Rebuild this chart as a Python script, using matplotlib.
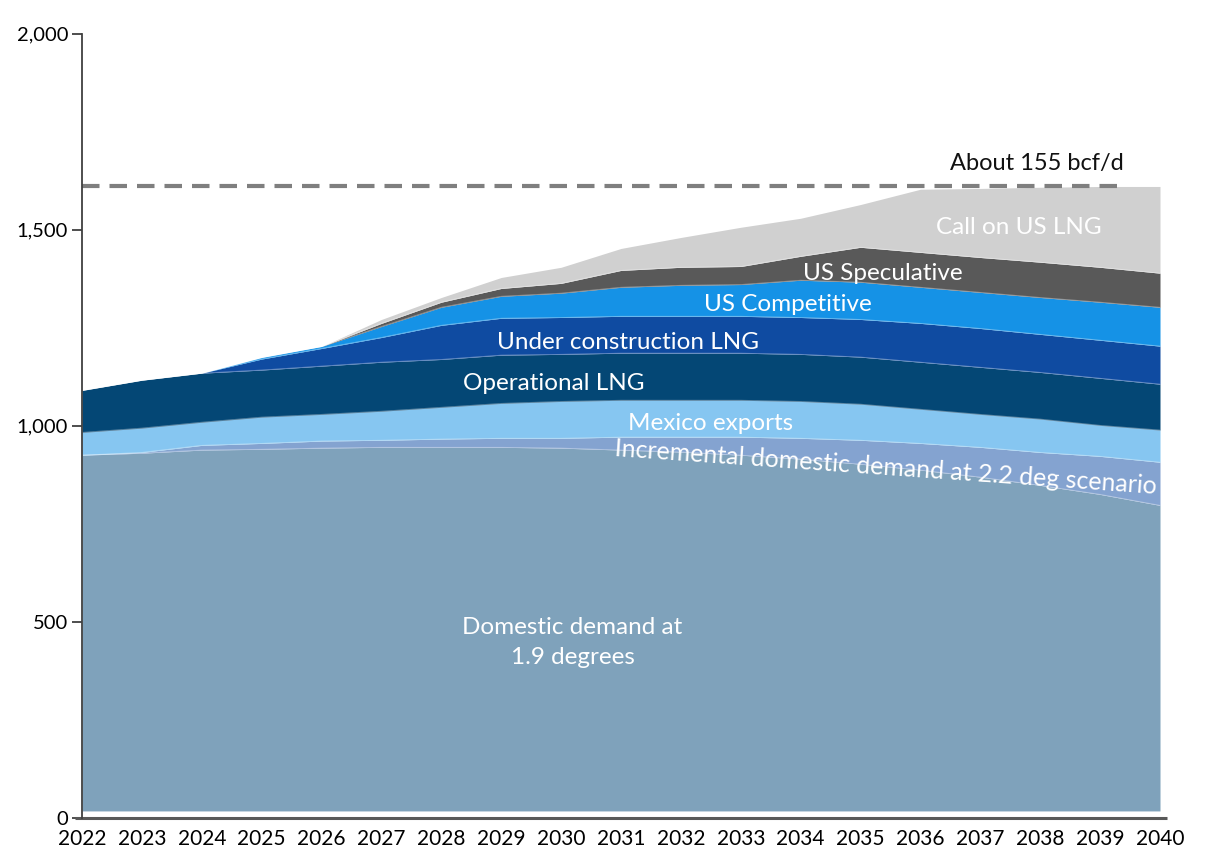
import numpy as np
import matplotlib
matplotlib.use("Agg")
import matplotlib.pyplot as plt
from matplotlib.transforms import blended_transform_factory

plt.rcParams['font.family'] = ['Lato', 'DejaVu Sans']

years = list(range(2022, 2041))

# cumulative top of domestic demand (1.9 degrees)
domestic = [925, 930, 938, 940, 943, 945, 945, 945, 943, 938, 933, 925, 915, 902, 887, 869, 848, 825, 797]
# layer thicknesses stacked above
incremental = [0, 2, 12, 15, 18, 18, 21, 23, 25, 33, 38, 46, 53, 61, 68, 76, 84, 97, 110]
mexico = [58, 62, 59, 67, 68, 74, 81, 89, 94, 94, 94, 94, 94, 92, 87, 84, 85, 79, 82]
operational = [107, 122, 125, 120, 123, 125, 122, 123, 120, 120, 120, 120, 120, 120, 120, 120, 119, 120, 117]
under_construction = [0, 0, 0, 28, 45, 63, 87, 94, 94, 94, 94, 94, 94, 96, 99, 99, 97, 97, 97]
us_competitive = [0, 0, 0, 4, 5, 28, 46, 56, 62, 74, 79, 81, 95, 95, 92, 92, 94, 97, 99]
us_speculative = [0, 0, 0, 0, 0, 8, 13, 20, 25, 43, 46, 46, 61, 89, 89, 89, 90, 89, 87]
call_on_us_lng = [0, 0, 0, 0, 0, 10, 12, 28, 41, 56, 76, 100, 97, 109, 161, 176, 191, 206, 221]

reference_level = 1610
reference_label = "About 155 bcf/d"
base_gap = 18

layer_names = ["Domestic demand at\n1.9 degrees",
               "Incremental domestic demand at 2.2 deg scenario",
               "Mexico exports", "Operational LNG", "Under construction LNG",
               "US Competitive", "US Speculative", "Call on US LNG"]
colors = ["#7fa2bb", "#84a3d0", "#86c6f1", "#044775", "#0f4ba1", "#1592e6", "#595959", "#d0d0d0"]

fig = plt.figure(figsize=(12.22, 8.5), dpi=100)
ax = fig.add_axes([82/1222, 1-818/850, 1078/1222, (818-33.5)/850])

x = np.array(years)
tops = [np.array(domestic, float)]
for layer in [incremental, mexico, operational, under_construction,
              us_competitive, us_speculative, call_on_us_lng]:
    tops.append(tops[-1] + np.array(layer, float))

bottom = np.full(len(x), float(base_gap))
for top, c in zip(tops, colors):
    ax.fill_between(x, bottom, top, color=c, lw=0)
    bottom = top
# faint separators between layers
for top in tops[:-1]:
    ax.plot(x, top, color="white", lw=0.6, alpha=0.35)

ax.plot([x[0], 2039.4], [reference_level, reference_level], color="#7f7f7f",
        lw=3, dashes=(4.2, 2.4))
ax.text(2037.95, 1668, reference_label, ha="center", va="center",
        fontsize=17, color="#111111")

ax.set_xlim(2022, 2040)
ax.set_ylim(0, 2000)
ax.set_xticks(years)
ax.set_yticks([0, 500, 1000, 1500, 2000])
ax.set_yticklabels(["0", "500", "1,000", "1,500", "2,000"])
ax.tick_params(axis="y", length=7, width=1.3, color="#404040", labelsize=14.5, pad=3)
ax.tick_params(axis="x", length=0, labelsize=15, pad=8)
for s in ["top", "right", "bottom"]:
    ax.spines[s].set_visible(False)
ax.spines["left"].set_color("#404040")
ax.spines["left"].set_linewidth(1.3)
tr = blended_transform_factory(ax.transAxes, ax.transData)
ax.plot([-0.0065, 1.0065], [0, 0], color="#595959", lw=2.2, transform=tr,
        clip_on=False, solid_capstyle="butt")

lab_kw = dict(color="white", ha="center", va="center", fontsize=17.5)
ax.text(2030.19, 447, layer_names[0], linespacing=1.5, **lab_kw)
inc_kw = dict(lab_kw, fontsize=18)
ax.text(2035.42, 893, layer_names[1], rotation=-4, rotation_mode="anchor",
        clip_on=True, **inc_kw)
ax.text(2032.5, 1006, layer_names[2], **lab_kw)
ax.text(2029.87, 1108, layer_names[3], **lab_kw)
ax.text(2031.12, 1213, layer_names[4], **lab_kw)
ax.text(2033.79, 1310, layer_names[5], **lab_kw)
ax.text(2035.37, 1389, layer_names[6], **lab_kw)
ax.text(2037.64, 1506, layer_names[7], **lab_kw)

fig.savefig("out.png", dpi=100)
